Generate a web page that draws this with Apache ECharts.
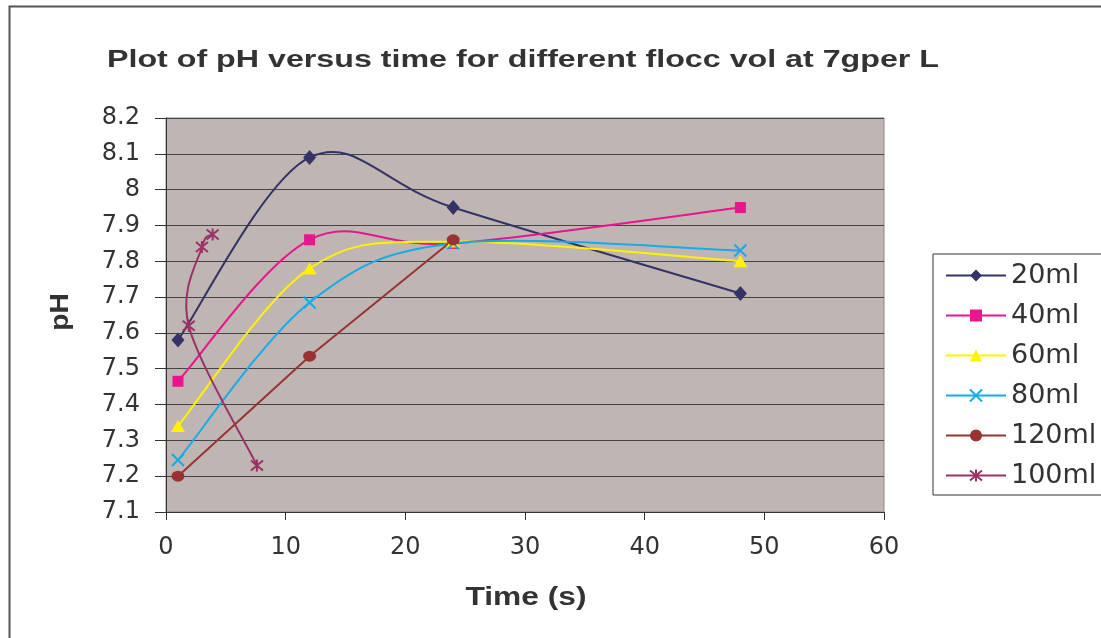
<!DOCTYPE html>
<html>
<head>
<meta charset="utf-8">
<script src="https://cdn.jsdelivr.net/npm/echarts@6/dist/echarts.min.js"></script>
<style>html,body{margin:0;padding:0;background:#fff}#c{width:1101px;height:638px}</style>
</head>
<body>
<div id="c"></div>
<script>
const titleText = 'Plot of pH versus time for different flocc vol at 7gper L';
const xName = 'Time (s)';
const yName = 'pH';
const seriesNames = ['20ml', '40ml', '60ml', '80ml', '120ml', '100ml'];
const times = [1, 12, 24, 48];
const ph20 = [7.58, 8.09, 7.95, 7.71];
const ph40 = [7.465, 7.86, 7.85, 7.95];
const ph60 = [7.34, 7.78, 7.855, 7.80];
const ph80 = [7.245, 7.685, 7.85, 7.83];
const times120 = [1, 12, 24];
const ph120 = [7.20, 7.535, 7.86];
const times100 = [7.6, 1.9, 3.0, 3.9];
const ph100 = [7.23, 7.62, 7.84, 7.875];
const xTicks = [0, 10, 20, 30, 40, 50, 60];
const yTicks = [7.1, 7.2, 7.3, 7.4, 7.5, 7.6, 7.7, 7.8, 7.9, 8.0, 8.1, 8.2];

const colors = ['#333366', '#E8158C', '#FFF200', '#14ACE8', '#993333', '#993366'];
const pair = (xs, ys) => xs.map((x, i) => [x, ys[i]]);
const FONT = '"Liberation Sans", Arial, sans-serif';
const WIDE = '"DejaVu Sans", Verdana, sans-serif';

const xSym = 'path://M0,0L10,10M10,0L0,10';
const astSym = 'path://M0,0L10,10M10,0L0,10M5,-1L5,11';

const sets = [
  { data: pair(times, ph20), symbol: 'diamond', size: [13, 15], smooth: true, stroke: false },
  { data: pair(times, ph40), symbol: 'rect', size: 11, smooth: true, stroke: false },
  { data: pair(times, ph60), symbol: 'triangle', size: [14, 12], smooth: true, stroke: false },
  { data: pair(times, ph80), symbol: xSym, size: 12, smooth: true, stroke: true },
  { data: pair(times120, ph120), symbol: 'circle', size: [13, 11], smooth: false, stroke: false },
  { data: pair(times100, ph100), symbol: astSym, size: 12, smooth: true, stroke: true }
];

// Spreadsheet-style smoothed line (Catmull-Rom Bezier), positioned through the axes via api.coord
function curveSeries(name, data, color) {
  return {
    name: name + ' curve', type: 'custom', data, z: 2, silent: true,
    renderItem(params, api) {
      const i = params.dataIndex;
      const n = data.length;
      if (i >= n - 1) return null;
      const P = k => api.coord(data[Math.max(0, Math.min(n - 1, k))]);
      const p0 = P(i - 1), p1 = P(i), p2 = P(i + 1), p3 = P(i + 2);
      return {
        type: 'bezierCurve',
        shape: {
          x1: p1[0], y1: p1[1], x2: p2[0], y2: p2[1],
          cpx1: p1[0] + (p2[0] - p0[0]) / 6, cpy1: p1[1] + (p2[1] - p0[1]) / 6,
          cpx2: p2[0] - (p3[0] - p1[0]) / 6, cpy2: p2[1] - (p3[1] - p1[1]) / 6
        },
        style: { stroke: color, lineWidth: 2, fill: null }
      };
    }
  };
}

const lineSeries = sets.map((s, k) => ({
  name: seriesNames[k], type: 'line', data: s.data, smooth: false,
  symbol: s.symbol, symbolSize: s.size,
  lineStyle: { color: colors[k], width: 2, opacity: s.smooth ? 0 : 1 },
  itemStyle: s.stroke ? { color: 'rgba(0,0,0,0)', borderColor: colors[k], borderWidth: 2 } : { color: colors[k], borderWidth: 0 },
  emphasis: { disabled: true },
  z: 3
}));
const curves = sets.map((s, k) => s.smooth ? curveSeries(seriesNames[k], s.data, colors[k]) : null).filter(Boolean);

const chart = echarts.init(document.getElementById('c'), null, { renderer: 'canvas' });
chart.setOption({
  animation: false,
  backgroundColor: '#ffffff',
  graphic: [{
    type: 'rect', left: 7, top: 4, shape: { width: 1200, height: 700 },
    style: { fill: 'none', stroke: '#555555', lineWidth: 2 }, silent: true
  }, {
    type: 'text', x: 523, y: 61, scaleX: 1.4, silent: true,
    style: { text: titleText, x: 0, y: 0, textAlign: 'center', textVerticalAlign: 'middle',
      font: 'bold 23px ' + FONT, fill: '#333333' }
  }, {
    type: 'text', x: 526, y: 598, scaleX: 1.22, silent: true,
    style: { text: xName, x: 0, y: 0, textAlign: 'center', textVerticalAlign: 'middle',
      font: 'bold 26px ' + FONT, fill: '#333333' }
  }, {
    type: 'text', x: 61, y: 312, rotation: Math.PI / 2, scaleX: 1.08, silent: true,
    style: { text: yName, x: 0, y: 0, textAlign: 'center', textVerticalAlign: 'middle',
      font: 'bold 26px ' + FONT, fill: '#333333' }
  }],
  legend: {
    orient: 'vertical', left: 933, top: 254,
    padding: [8, 12, 6, 12],
    itemWidth: 60, itemHeight: 15, itemGap: 13,
    borderColor: '#333333', borderWidth: 1,
    backgroundColor: '#ffffff',
    textStyle: { fontFamily: WIDE, fontSize: 27, color: '#333333', padding: [0, 0, 0, 0], lineHeight: 27 },
    data: seriesNames.map((nm, k) => ({ name: nm, lineStyle: { color: colors[k], width: 2, opacity: 1 } }))
  },
  grid: {
    left: 166, top: 118, width: 718, height: 394,
    show: true, backgroundColor: '#BFB6B3', borderColor: '#888888', borderWidth: 1
  },
  xAxis: {
    type: 'value', min: xTicks[0], max: xTicks[xTicks.length - 1], interval: 10,
    axisLine: { show: true, lineStyle: { color: '#333333', width: 1 } },
    axisTick: { show: true, length: 8, lineStyle: { color: '#333333' } },
    axisLabel: { fontFamily: WIDE, fontSize: 24, color: '#333333', margin: 24 },
    splitLine: { show: false }
  },
  yAxis: {
    type: 'value', min: yTicks[0], max: yTicks[yTicks.length - 1], interval: 0.1,
    axisLine: { show: true, lineStyle: { color: '#333333', width: 1 } },
    axisTick: { show: true, length: 11, lineStyle: { color: '#333333' } },
    axisLabel: { fontFamily: WIDE, fontSize: 24, color: '#333333', margin: 26,
      formatter: v => String(Math.round(v * 10) / 10) },
    splitLine: { show: true, lineStyle: { color: '#444444', width: 1 } }
  },
  series: curves.concat(lineSeries)
});
</script>
</body>
</html>
